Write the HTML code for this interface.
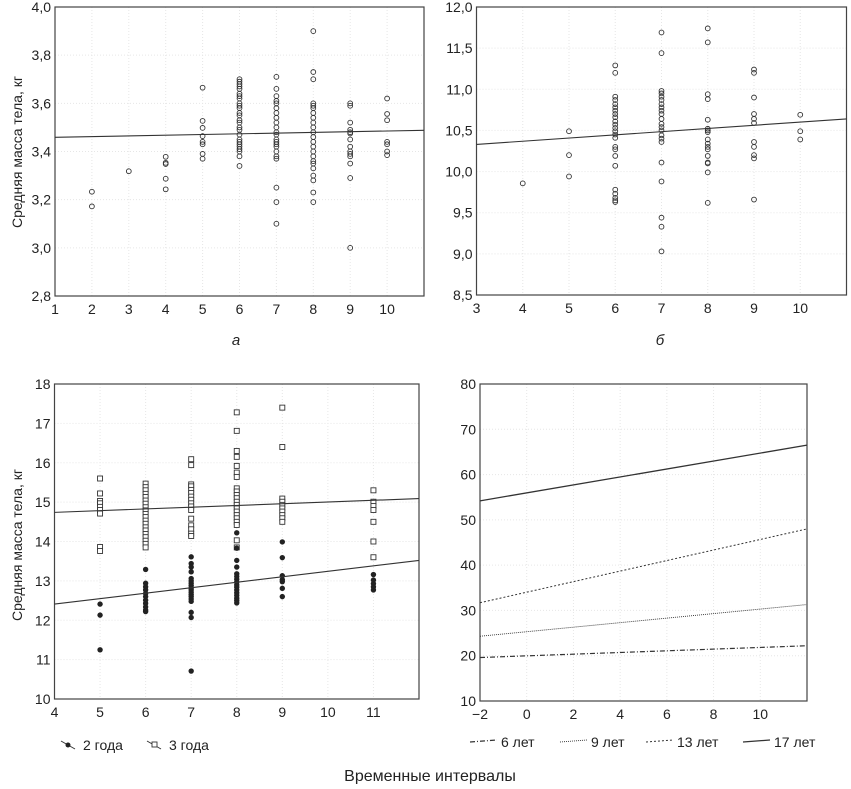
<!DOCTYPE html>
<html><head><meta charset="utf-8">
<style>
body{margin:0;background:#fff;width:851px;height:784px;overflow:hidden;font-family:"Liberation Sans",sans-serif;}
svg text{font-family:"Liberation Sans",sans-serif;fill:#222;}
</style></head>
<body>
<svg id="chart" width="851" height="784"></svg>
<script>
// Panel a data
const aX = [2,2,3,4,4,4,4,4,5,5,5,5,5,5,5,5];
const aY = [3.233,3.172,3.318,3.378,3.353,3.348,3.287,3.243,3.665,3.527,3.498,3.464,3.44,3.43,3.39,3.37];
const a6 = [3.70,3.69,3.68,3.67,3.66,3.64,3.63,3.62,3.60,3.59,3.58,3.56,3.55,3.53,3.52,3.50,3.49,3.47,3.45,3.44,3.43,3.42,3.41,3.40,3.38,3.34];
const a7 = [3.71,3.66,3.63,3.61,3.60,3.58,3.56,3.54,3.52,3.50,3.48,3.47,3.45,3.44,3.43,3.42,3.40,3.38,3.37,3.25,3.19,3.10];
const a8 = [3.90,3.73,3.70,3.60,3.59,3.58,3.56,3.54,3.52,3.50,3.48,3.46,3.44,3.42,3.40,3.38,3.36,3.35,3.33,3.30,3.28,3.23,3.19];
const a9 = [3.60,3.59,3.52,3.49,3.48,3.475,3.45,3.42,3.40,3.39,3.38,3.35,3.29,3.00];
const a10 = [3.62,3.556,3.53,3.44,3.43,3.40,3.385];
const aLine = [3.459,3.488]; // at x=1 and x=11
const aXTicks = [1,2,3,4,5,6,7,8,9,10];
const aYTicks = ["2,8","3,0","3,2","3,4","3,6","3,8","4,0"];
// Panel b data
const b4 = [9.857];
const b5 = [10.49,10.20,9.94];
const b6 = [11.29,11.20,10.91,10.87,10.82,10.78,10.74,10.70,10.66,10.61,10.57,10.53,10.49,10.45,10.41,10.30,10.27,10.19,10.07,9.78,9.73,9.68,9.65,9.63];
const b7 = [11.69,11.44,10.98,10.95,10.91,10.87,10.82,10.78,10.74,10.70,10.64,10.58,10.54,10.50,10.44,10.40,10.36,10.11,9.88,9.44,9.33,9.03];
const b8 = [11.74,11.57,10.94,10.88,10.63,10.52,10.50,10.48,10.39,10.34,10.30,10.27,10.19,10.11,10.10,9.99,9.62];
const b9 = [11.24,11.20,10.90,10.70,10.64,10.59,10.36,10.30,10.20,10.16,9.66];
const b10 = [10.69,10.49,10.39];
const bLine = [10.33,10.64]; // at x=3 and x=11
const bXTicks = [3,4,5,6,7,8,9,10];
const bYTicks = ["8,5","9,0","9,5","10,0","10,5","11,0","11,5","12,0"];
// Panel c data: 3 года (open squares)
const c3_5 = [15.60,15.22,15.03,14.97,14.88,14.80,14.71,13.86,13.76];
const c3_6 = [15.47,15.38,15.30,15.21,15.13,15.04,14.96,14.87,14.79,14.70,14.62,14.53,14.45,14.36,14.28,14.19,14.11,14.02,13.94,13.85];
const c3_7 = [16.09,15.94,15.45,15.40,15.31,15.23,15.14,15.06,14.97,14.89,14.80,14.58,14.41,14.31,14.20,14.14];
const c3_8 = [17.28,16.81,16.30,16.15,15.92,15.75,15.64,15.35,15.27,15.18,15.10,15.01,14.93,14.84,14.76,14.67,14.59,14.50,14.42,14.03,13.85];
const c3_9 = [17.40,16.40,15.09,15.01,14.93,14.84,14.76,14.67,14.59,14.50];
const c3_11 = [15.30,15.01,14.90,14.80,14.50,14.00,13.60];
// 2 года (filled)
const c2_5 = [12.41,12.13,11.25];
const c2_6 = [13.29,12.94,12.85,12.77,12.68,12.60,12.51,12.43,12.34,12.26,12.22];
const c2_7 = [13.61,13.44,13.35,13.23,13.06,13.00,12.94,12.88,12.82,12.77,12.71,12.65,12.60,12.54,12.48,12.20,12.07,10.71];
const c2_8 = [14.22,13.83,13.52,13.35,13.18,13.11,13.04,12.97,12.90,12.84,12.77,12.70,12.63,12.56,12.50,12.44];
const c2_9 = [13.99,13.59,13.13,13.03,12.98,12.81,12.60];
const c2_11 = [13.16,13.02,12.93,12.85,12.77];
const cLine3 = [14.74,15.09]; // x=4, x=12
const cLine2 = [12.41,13.52];
const cXTicks = [4,5,6,7,8,9,10,11];
const cYTicks = [10,11,12,13,14,15,16,17,18];
// Panel d lines (x=-2, x=12)
const dNames = ["6 лет","9 лет","13 лет","17 лет"];
const dStart = [19.6,24.3,31.7,54.2];
const dEnd = [22.2,31.3,48.0,66.5];
const dXTicks = [-2,0,2,4,6,8,10];
const dYTicks = [10,20,30,40,50,60,70,80];

const NS="http://www.w3.org/2000/svg";
const svg=document.getElementById('chart');
function mk(tag,attrs,parent){const e=document.createElementNS(NS,tag);for(const k in attrs)e.setAttribute(k,attrs[k]);(parent||svg).appendChild(e);return e;}

function panel(name,L,R,T,B,x0,x1,y0,y1,xt,yt,yv){
  const g=mk('g',{});
  
  
  const sx=v=>L+(v-x0)/(x1-x0)*(R-L);
  const sy=v=>B-(v-y0)/(y1-y0)*(B-T);
  // grid
  xt.forEach(v=>{const l=mk('line',{x1:sx(v),x2:sx(v),y1:T,y2:B,stroke:'#e6e6e6','stroke-width':1,'stroke-dasharray':'1,2'},g);
    });
  yv.forEach(v=>{const l=mk('line',{x1:L,x2:R,y1:sy(v),y2:sy(v),stroke:'#e6e6e6','stroke-width':1,'stroke-dasharray':'1,2'},g);
    });
  const r=mk('rect',{x:L,y:T,width:R-L,height:B-T,fill:'none',stroke:'#444','stroke-width':1.2},g);
  
  xt.forEach(v=>{const t=mk('text',{x:sx(v),y:B+18,'text-anchor':'middle','font-size':14},g);t.textContent=String(v).replace('-','−');
    });
  yv.forEach((v,i)=>{const t=mk('text',{x:L-4,y:sy(v)+5,'text-anchor':'end','font-size':14},g);t.textContent=yt[i];
    });
  return {g,sx,sy};
}
function circ(P,x,ys){ys.forEach(v=>{const c=mk('circle',{cx:P.sx(x),cy:P.sy(v),r:2.4,fill:'none',stroke:'#333','stroke-width':0.9},P.g);
  });}
function sq(P,x,ys){ys.forEach(v=>{const c=mk('rect',{x:P.sx(x)-2.5,y:P.sy(v)-2.5,width:5,height:5,fill:'#fff',stroke:'#333','stroke-width':0.9},P.g);
  });}
function dot(P,x,ys){ys.forEach(v=>{const c=mk('circle',{cx:P.sx(x),cy:P.sy(v),r:2.7,fill:'#222'},P.g);
  });}
function line(P,xa,xb,ya,yb,name,dash,w){const l=mk('line',{x1:P.sx(xa),y1:P.sy(ya),x2:P.sx(xb),y2:P.sy(yb),stroke:'#333','stroke-width':w||1.1},P.g);
  if(dash)l.setAttribute('stroke-dasharray',dash);
  }

// Panel a
const yvA=[2.8,3.0,3.2,3.4,3.6,3.8,4.0];
const A=panel('panel-a',55,424,7,296,1,11,2.8,4.0,aXTicks,aYTicks,yvA);
aX.forEach((x,i)=>circ(A,x,[aY[i]]));
circ(A,6,a6);circ(A,7,a7);circ(A,8,a8);circ(A,9,a9);circ(A,10,a10);
line(A,1,11,aLine[0],aLine[1],'trend-line');
// Panel b
const yvB=[8.5,9,9.5,10,10.5,11,11.5,12];
const Bp=panel('panel-b',476.5,846.5,7,295,3,11,8.5,12,bXTicks,bYTicks,yvB);
circ(Bp,4,b4);circ(Bp,5,b5);circ(Bp,6,b6);circ(Bp,7,b7);circ(Bp,8,b8);circ(Bp,9,b9);circ(Bp,10,b10);
line(Bp,3,11,bLine[0],bLine[1],'trend-line');
// Panel c
const C=panel('panel-c',54.5,419,384,699,4,12,10,18,cXTicks,cYTicks.map(String),cYTicks);
sq(C,5,c3_5);sq(C,6,c3_6);sq(C,7,c3_7);sq(C,8,c3_8);sq(C,9,c3_9);sq(C,11,c3_11);
dot(C,5,c2_5);dot(C,6,c2_6);dot(C,7,c2_7);dot(C,8,c2_8);dot(C,9,c2_9);dot(C,11,c2_11);
line(C,4,12,cLine3[0],cLine3[1],'trend-line-3-years');
line(C,4,12,cLine2[0],cLine2[1],'trend-line-2-years');
// Panel d
const D=panel('panel-d',480,807,384,701,-2,12,10,80,dXTicks,dYTicks.map(String),dYTicks);
const dDash=['5,2,1,2','1,1','2,2',null];
const dW=[1.2,0.9,1,1.3];
dNames.forEach((n,i)=>line(D,-2,12,dStart[i],dEnd[i],'line-'+(i===0?'6':i===1?'9':i===2?'13':'17')+'-years',dDash[i],dW[i]));
// legend d
const lgX=[470,560,646,743];
dNames.forEach((n,i)=>{
  const l=mk('line',{x1:lgX[i],y1:742,x2:lgX[i]+27,y2:740,stroke:'#333','stroke-width':dW[i]});
  if(dDash[i])l.setAttribute('stroke-dasharray',dDash[i]);
  
  const t=mk('text',{x:lgX[i]+31,y:747,'font-size':14});t.textContent=n;
  
});
</script>
<svg width="851" height="784" style="position:absolute;left:0;top:0">
<text x="22" y="152" font-size="14" text-anchor="middle" transform="rotate(-90 22 152)">Средняя масса тела, кг</text>
<text x="22" y="545" font-size="14" text-anchor="middle" transform="rotate(-90 22 545)">Средняя масса тела, кг</text>
<text x="236" y="345" font-size="15" font-style="italic" text-anchor="middle">а</text>
<text x="660" y="345" font-size="15" font-style="italic" text-anchor="middle">б</text>
<g>
<line x1="61" y1="741" x2="75" y2="749" stroke="#333" stroke-width="1"/>
<circle cx="68" cy="745" r="2.5" fill="#222"/>
<text x="83" y="750" font-size="14">2 года</text></g>
<g>
<line x1="147" y1="741" x2="161" y2="749" stroke="#333" stroke-width="1"/>
<rect x="152" y="742" width="5" height="5" fill="#fff" stroke="#333" stroke-width="0.9"/>
<text x="169" y="750" font-size="14">3 года</text></g>
<text x="430" y="781" font-size="16" text-anchor="middle">Временные интервалы</text>
</svg>
<style>body{position:relative}</style>
</body></html>
